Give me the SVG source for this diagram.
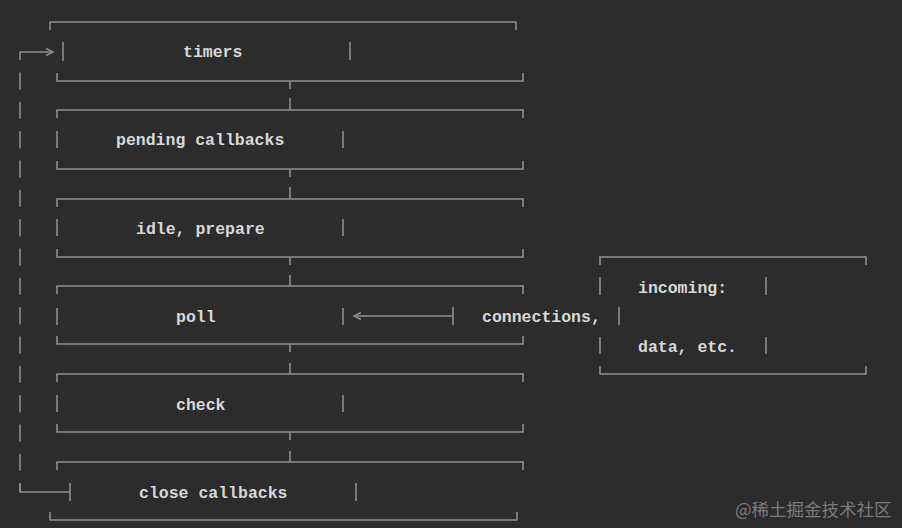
<svg xmlns="http://www.w3.org/2000/svg" width="902" height="528" viewBox="0 0 902 528">
<style>
.ln{fill:none;stroke:#8e8e8e;stroke-width:1.6;stroke-linecap:butt}
.t{font-family:"Liberation Mono","DejaVu Sans Mono",monospace;font-weight:bold;font-size:16.5px;fill:#d8d8d8}
.wm{font-family:"Noto Sans CJK SC","Liberation Sans",sans-serif;font-size:17.5px;fill:#7a7a7a}
</style>
<rect width="902" height="528" fill="#2c2c2c"/>
<g id="timers">
<path class="ln" d="M50,30 V22 H516 V30"/>
<path class="ln" d="M63,42 V61 M350,42 V60"/>
<path class="ln" d="M57,73 V81 H523 V73"/>
<text class="t" x="183" y="57">timers</text>
</g>
<g id="pending">
<path class="ln" d="M57,118 V110 H523 V118"/>
<path class="ln" d="M57,131 V148 M343,131 V148"/>
<path class="ln" d="M57,161 V169 H523 V161"/>
<text class="t" x="116" y="145">pending callbacks</text>
</g>
<g id="idle">
<path class="ln" d="M57,207 V199 H523 V207"/>
<path class="ln" d="M57,219 V236 M343,219 V236"/>
<path class="ln" d="M57,249 V257 H523 V249"/>
<text class="t" x="136" y="233.5">idle, prepare</text>
</g>
<g id="poll">
<path class="ln" d="M57,294 V286 H523 V294"/>
<path class="ln" d="M57,308 V325 M343,308 V325"/>
<path class="ln" d="M57,336 V344 H523 V336"/>
<text class="t" x="176" y="321.5">poll</text>
</g>
<g id="check">
<path class="ln" d="M57,382 V374 H523 V382"/>
<path class="ln" d="M57,395 V412 M343,395 V412"/>
<path class="ln" d="M57,424 V432 H523 V424"/>
<text class="t" x="176" y="409.5">check</text>
</g>
<g id="close">
<path class="ln" d="M57,470 V462 H523 V470"/>
<path class="ln" d="M70,483 V501 M356,483 V501"/>
<path class="ln" d="M50,512 V520 H517 V512"/>
<text class="t" x="139" y="497.5">close callbacks</text>
</g>
<g id="incoming">
<path class="ln" d="M600,265 V257 H866 V265"/>
<path class="ln" d="M600,277 V295 M766,277 V295 M619,307 V325 M600,337 V354 M766,337 V354"/>
<path class="ln" d="M600,366 V374 H866 V366"/>
<text class="t" x="638" y="292.5">incoming:</text>
<text class="t" x="482" y="321.5">connections,</text>
<text class="t" x="638" y="351.5">data, etc.</text>
</g>
<g id="connectors">
<path class="ln" d="M20,60 V52 H51"/>
<path class="ln" d="M46,48.5 L53,52 L46,55.5"/>
<path class="ln" d="M20,72.5 V492" stroke-dasharray="17 12.33"/>
<path class="ln" d="M20,483 V492 H70"/>
<path class="ln" d="M290,81 V89 M290,98 V110 M290,169 V177 M290,187 V199 M290,257 V265 M290,275 V286 M290,344 V352 M290,363 V374 M290,432 V440 M290,451 V462"/>
<path class="ln" d="M356,316 H453 M453,307 V325"/>
<path class="ln" d="M361,312.5 L354,316 L361,319.5"/>
</g>
<text class="wm" x="735" y="516">@稀土掘金技术社区</text>
</svg>
